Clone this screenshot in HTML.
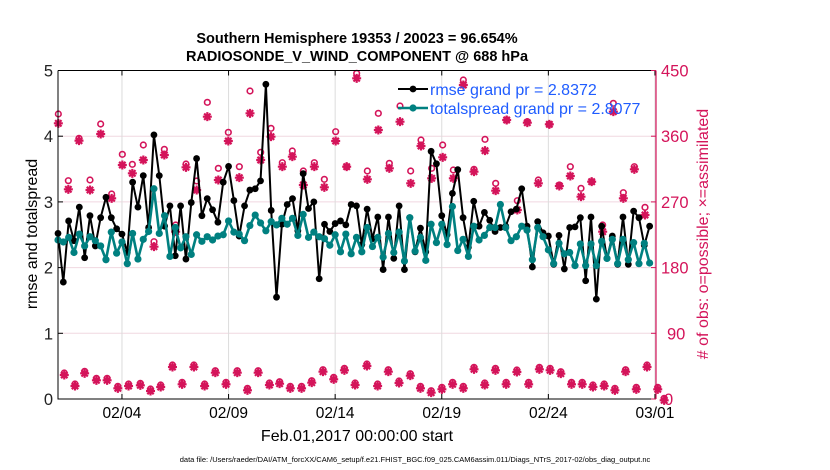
<!DOCTYPE html>
<html><head><meta charset="utf-8"><style>
html,body{margin:0;padding:0;background:#fff;}
svg{display:block;font-family:"Liberation Sans",Arial,sans-serif;}
</style></head><body>
<svg id="s" width="830" height="470" viewBox="0 0 830 470" xmlns="http://www.w3.org/2000/svg">
<rect width="830" height="470" fill="#fff"/>
<g id="grid"></g>
<g id="obs"></g>
<g id="lines"></g>
<g id="axes"></g>
<text x="357" y="43" text-anchor="middle" font-size="14.5" font-weight="bold" fill="#000">Southern Hemisphere 19353 / 20023 = 96.654%</text>
<text x="357" y="61" text-anchor="middle" font-size="14.5" font-weight="bold" fill="#000">RADIOSONDE_V_WIND_COMPONENT @ 688 hPa</text>
<text transform="translate(37,234) rotate(-90)" text-anchor="middle" font-size="16" fill="#000">rmse and totalspread</text>
<text transform="translate(708,234) rotate(-90)" text-anchor="middle" font-size="16" fill="#d4145a"># of obs: o=possible; ×=assimilated</text>
<text x="357" y="441" text-anchor="middle" font-size="16" fill="#000">Feb.01,2017 00:00:00 start</text>
<text x="415" y="462" text-anchor="middle" font-size="7.5" fill="#000">data file: /Users/raeder/DAI/ATM_forcXX/CAM6_setup/f.e21.FHIST_BGC.f09_025.CAM6assim.011/Diags_NTrS_2017-02/obs_diag_output.nc</text>
<g id="leg"></g>
</svg>
<script>
var NS="http://www.w3.org/2000/svg";
function el(p,t,a){var e=document.createElementNS(NS,t);for(var k in a)e.setAttribute(k,a[k]);document.getElementById(p).appendChild(e);return e;}
var X0=58,X1=656,Y0=399,U=65.7,PD=21.32;
function Y(v){return Y0-v*U;}
for(var i=1;i<5;i++)el("grid","line",{x1:X0,x2:X1,y1:Y(i),y2:Y(i),stroke:"#f0d8e0","stroke-width":1});
var days=[3,8,13,18,23,28],lab=["02/04","02/09","02/14","02/19","02/24","03/01"];
days.forEach(function(d,j){var x=X0+d*PD;el("grid","line",{x1:x,x2:x,y1:Y(5),y2:Y0,stroke:"#dcdcdc","stroke-width":1});
el("axes","line",{x1:x,x2:x,y1:Y0,y2:Y0-5,stroke:"#000"});el("axes","line",{x1:x,x2:x,y1:Y(5),y2:Y(5)+5,stroke:"#000"});
var t=el("axes","text",{x:x,y:418,"text-anchor":"middle","font-size":"15.5",fill:"#000"});t.textContent=lab[j];});
el("axes","path",{d:"M"+X0+" "+Y(5)+"L"+X0+" "+Y0+"L"+X1+" "+Y0,fill:"none",stroke:"#000","stroke-width":1});
el("axes","line",{x1:X0,x2:X1,y1:Y(5),y2:Y(5),stroke:"#000","stroke-width":1});
el("axes","line",{x1:X1,x2:X1,y1:Y(5),y2:Y0,stroke:"#d4145a","stroke-width":1.2});
for(var i=0;i<=5;i++){var t=el("axes","text",{x:53,y:Y(i)+6,"text-anchor":"end","font-size":"16.5",fill:"#222"});t.textContent=i;
el("axes","line",{x1:X0,x2:X0+5,y1:Y(i),y2:Y(i),stroke:"#000"});
el("axes","line",{x1:X1-5,x2:X1,y1:Y(i),y2:Y(i),stroke:"#d4145a"});
var t2=el("axes","text",{x:i==0?664:(i==1?667:661),y:Y(i)+6,"font-size":"16.5",fill:"#d4145a"});t2.textContent=i*90;}
var up=[];
function addU(off,arr){arr.forEach(function(a){up.push([off+a[0]/3,70+a[1]/3,70+a[2]/3]);});}
addU(55,[[10,132,160],[40,332,358],[72,205,212],[105,330,360],[137,162,192],[170,372,385],[202,253,285],[232,283,310],[265,225,270],[297,515,530],[328,238,255],[362,465,485],[393,282,292],[425,333,360],[457,97,140],[490,295,330],[520,187,213],[553,290,323],[585,63,130]]);
addU(250,[[32,247,270],[63,175,200],[97,278,290],[127,243,260],[160,303,345],[193,278,290],[223,328,352],[257,185,213],[290,290,290],[320,10,25],[352,303,328],[385,130,180],[418,280,295],[450,108,155],[482,303,340],[513,210,228],[545,295,325],[578,225,262]]);
addU(450,[[10,300,325],[40,30,45],[72,298,305],[105,208,242],[137,340,362],[170,150,150],[202,392,420],[232,155,158],[265,330,340],[298,163,163],[328,345,348],[361,290,318],[393,355,380],[425,335,335],[458,465,485],[490,100,125],[520,368,385],[553,290,298],[585,412,435]]);
var lo=[[120,102],[140,135],[158,97],[180,118],[200,118],[220,142],[240,135],[262,133],[281,150],[300,138],[322,78],[340,130],[362,78],[382,135],[402,95],[422,130],[443,95],[462,148],[482,95],[503,132],[522,128],[542,142],[563,142],[582,125],[603,92],[623,115],[643,88],[663,132],[685,75],[705,135],[725,92],[745,126],[766,104],[785,142],[805,155],[825,145],[845,130],[865,142],[885,85],[905,132],[925,88],[945,130],[965,93],[987,130],[1007,85],[1027,88],[1047,98],[1067,130],[1087,130],[1107,138],[1128,135],[1148,148],[1168,92],[1188,145],[1208,78],[1228,145],[1240,178]];
lo.forEach(function(a){var x=a[0]/1.867,y=340+a[1]/3;up.push([x,y-1,y+1]);});
var C="#d4145a";
function star(x,y){var r=4.5,d="";for(var k=0;k<4;k++){var an=k*Math.PI/4,dx=r*Math.cos(an),dy=r*Math.sin(an);d+="M"+(x-dx)+" "+(y-dy)+"L"+(x+dx)+" "+(y+dy);}
el("obs","path",{d:d,stroke:C,"stroke-width":2.2,fill:"none"});el("obs","circle",{cx:x,cy:y,r:2.2,fill:C});}
up.forEach(function(p){el("obs","circle",{cx:p[0],cy:p[1],r:2.8,fill:"none",stroke:C,"stroke-width":1.6});star(p[0],p[2]);});
var rm=[2.52,1.78,2.71,2.41,2.92,2.15,2.79,2.33,2.76,3.07,2.76,2.59,2.51,2.23,3.30,2.92,3.40,2.61,4.02,3.40,2.63,2.94,2.18,2.94,2.13,2.99,3.66,2.79,3.05,2.88,2.69,3.30,3.54,3.02,2.48,2.94,3.18,
3.2,3.32,4.79,2.87,1.55,2.66,2.96,3.05,2.56,3.43,2.90,3.0,1.83,2.66,2.55,2.67,2.71,2.65,2.96,2.94,2.35,2.89,2.44,2.77,1.97,2.77,2.14,2.94,1.97,2.76,2.24,2.6,2.24,3.77,3.58,2.79,
2.5,3.13,3.49,2.76,2.31,3.01,2.63,2.84,2.72,2.55,2.61,2.63,2.85,2.89,3.2,2.63,2.01,2.70,2.53,2.48,2.05,2.49,1.98,2.61,2.62,2.76,1.80,2.77,1.52,2.63,2.14,2.48,2.05,2.77,2.05,2.86,2.76,2.34,2.63];
var sp=[2.42,2.39,2.46,2.23,2.51,2.33,2.47,2.41,2.33,2.12,2.54,2.22,2.39,2.06,2.52,2.13,2.43,2.55,3.2,2.52,2.79,2.17,2.61,2.30,2.47,2.20,2.5,2.40,2.47,2.42,2.48,2.5,2.71,2.54,2.51,2.41,2.64,
2.80,2.68,2.56,2.70,2.65,2.75,2.66,2.75,2.49,2.81,2.46,2.54,2.47,2.44,2.34,2.5,2.24,2.51,2.21,2.46,2.24,2.61,2.32,2.46,2.16,2.52,2.23,2.54,2.1,2.76,2.25,2.46,2.11,2.66,2.38,2.66,
2.35,2.93,2.26,2.43,2.17,2.63,2.42,2.49,2.61,2.61,2.96,2.61,2.41,2.47,2.63,2.57,2.12,2.61,2.47,2.27,2.06,2.37,2.21,2.23,2.03,2.36,2.03,2.36,2.03,2.4,2.14,2.43,2.06,2.43,2.12,2.38,2.06,2.37,2.07];
function series(v,col,w,r){var d="";v.forEach(function(a,i){var x=X0+i*PD/4;d+=(i?"L":"M")+x.toFixed(1)+" "+Y(a).toFixed(1);});
el("lines","path",{d:d,fill:"none",stroke:col,"stroke-width":w,"stroke-linejoin":"round"});
v.forEach(function(a,i){var x=X0+i*PD/4;el("lines","circle",{cx:x,cy:Y(a),r:r,fill:col});});}
series(rm,"#000",2,3.4);
series(sp,"#008080",2.6,3.6);
el("leg","line",{x1:398,x2:428,y1:89,y2:89,stroke:"#000","stroke-width":2});el("leg","circle",{cx:413,cy:89,r:3.4,fill:"#000"});
el("leg","line",{x1:398,x2:428,y1:108,y2:108,stroke:"#008080","stroke-width":2.6});el("leg","circle",{cx:413,cy:108,r:3.6,fill:"#008080"});
var t=el("leg","text",{x:430,y:95,"font-size":"16",fill:"#1f5cff"});t.textContent="rmse grand pr = 2.8372";
t=el("leg","text",{x:430,y:114,"font-size":"16",fill:"#1f5cff"});t.textContent="totalspread grand pr = 2.8077";
</script>
</body></html>
